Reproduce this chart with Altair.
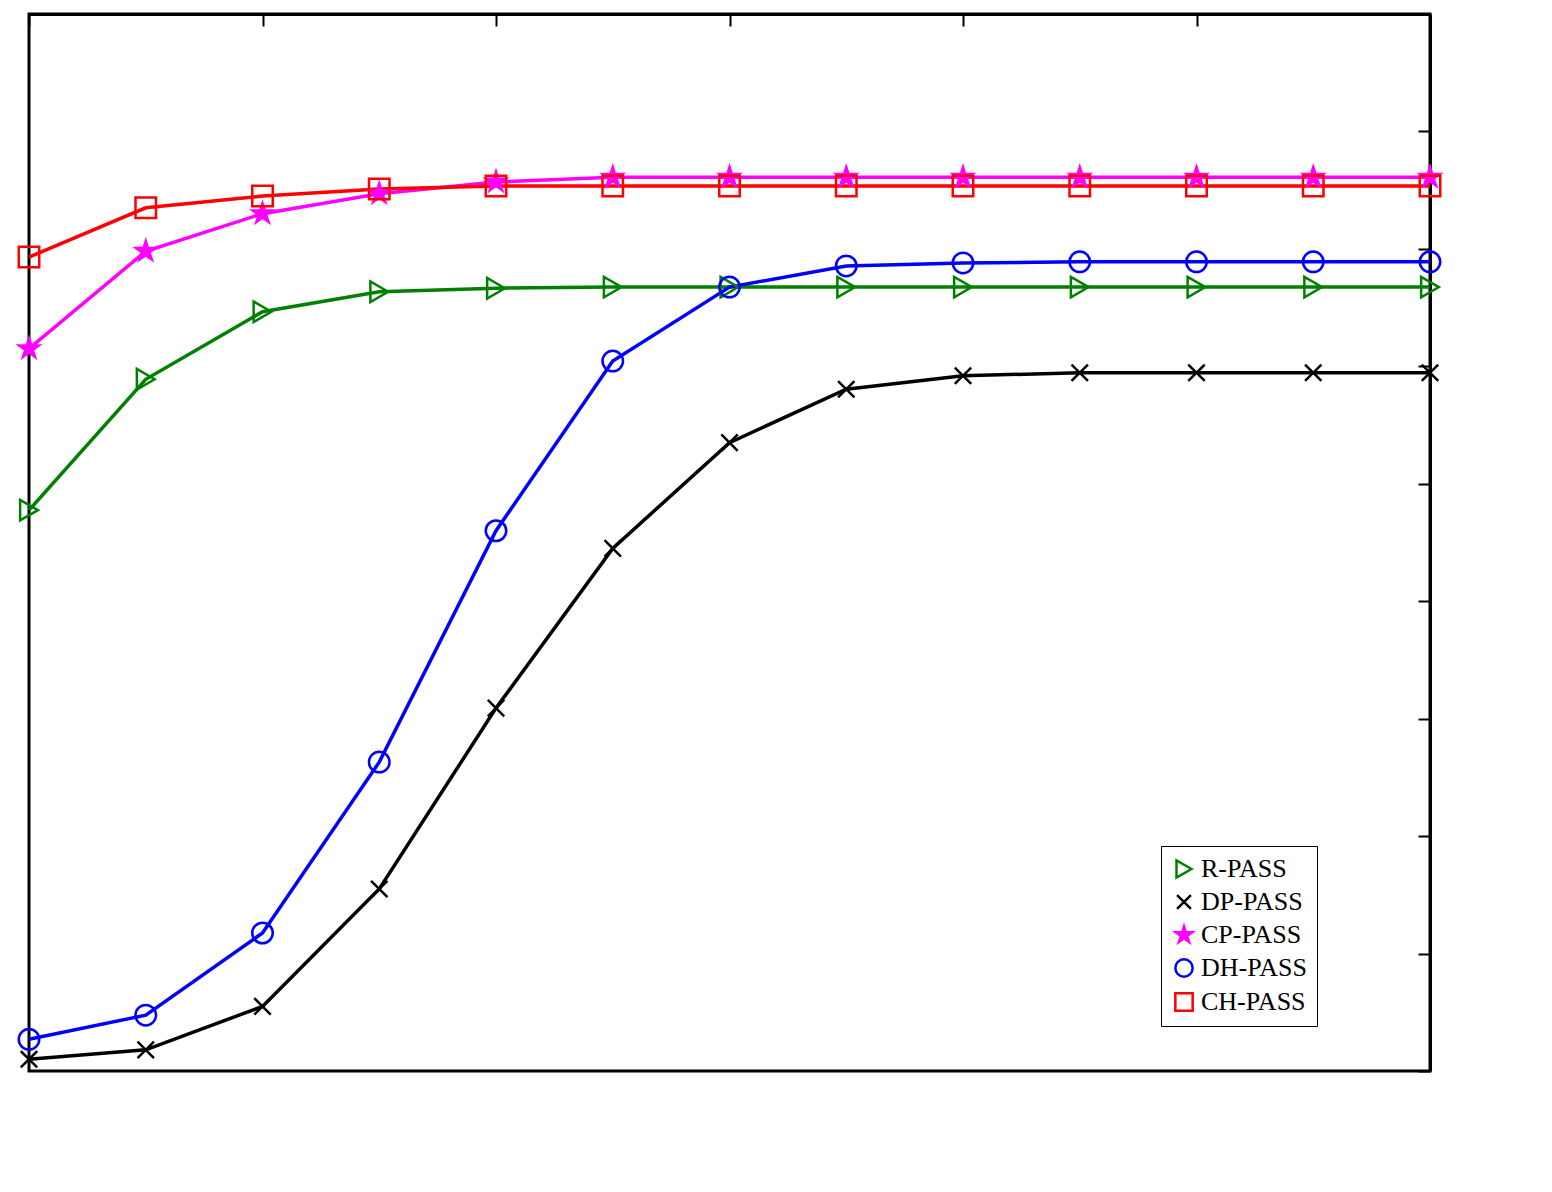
import altair as alt
import pandas as pd

iters = [0, 10, 20, 30, 40, 50, 60, 70, 80, 90, 100, 110, 120]
r_pass = [17.55, 19.78, 20.93, 21.27, 21.33, 21.35, 21.35, 21.35, 21.35, 21.35, 21.35, 21.35, 21.35]
dp_pass = [8.2, 8.36, 9.1, 11.1, 14.18, 16.9, 18.7, 19.61, 19.84, 19.89, 19.89, 19.89, 19.89]
cp_pass = [20.3, 21.96, 22.6, 22.94, 23.14, 23.22, 23.22, 23.22, 23.22, 23.22, 23.22, 23.22, 23.22]
dh_pass = [8.54, 8.95, 10.35, 13.26, 17.2, 20.09, 21.35, 21.71, 21.76, 21.78, 21.78, 21.78, 21.78]
ch_pass = [21.86, 22.7, 22.9, 23.02, 23.07, 23.07, 23.07, 23.07, 23.07, 23.07, 23.07, 23.07, 23.07]

names = ["R-PASS", "DP-PASS", "CP-PASS", "DH-PASS", "CH-PASS"]
colors = ["green", "black", "magenta", "blue", "red"]
star = "M0,-1L0.22,-0.31L0.95,-0.31L0.36,0.12L0.59,0.81L0,0.38L-0.59,0.81L-0.36,0.12L-0.95,-0.31L-0.22,-0.31Z"
shapes = ["triangle-right", "M-0.8,-0.8L0.8,0.8M-0.8,0.8L0.8,-0.8", star, "circle", "square"]
fills = ["transparent", "transparent", "magenta", "transparent", "transparent"]

rows = []
for n, vals in zip(names, [r_pass, dp_pass, cp_pass, dh_pass, ch_pass]):
    for i, v in zip(iters, vals):
        rows.append({"iter": i, "rate": v, "series": n})
df = pd.DataFrame(rows)

F = "Liberation Serif"
inward = alt.ExprRef(expr="-12")
xs = alt.Scale(domain=[0, 120], nice=False)
ys = alt.Scale(domain=[8, 26], nice=False)
xax = alt.Axis(values=list(range(0, 121, 20)), tickSize=inward, grid=False, labelPadding=16,
               title="Number of Iterations", titleFontWeight="normal")
yax = alt.Axis(values=list(range(8, 27, 2)), tickSize=inward, grid=False, labelPadding=16,
               title="Sum-Rate (bps/Hz)", titleFontWeight="normal")
col = alt.Color("series:N", scale=alt.Scale(domain=names, range=colors),
                legend=alt.Legend(title=None, orient="none", legendX=1132, legendY=832,
                                  strokeColor="black", fillColor="white", padding=10,
                                  labelFont=F, labelFontSize=26, symbolSize=300,
                                  symbolStrokeWidth=2.5, rowPadding=6))

base = alt.Chart(df).encode(
    x=alt.X("iter:Q", scale=xs, axis=xax),
    y=alt.Y("rate:Q", scale=ys, axis=yax),
    color=col,
)
lines = base.mark_line(strokeWidth=3.5)
pts = base.mark_point(size=420, strokeWidth=2.5, opacity=1).encode(
    shape=alt.Shape("series:N", scale=alt.Scale(domain=names, range=shapes)),
    fill=alt.Fill("series:N", scale=alt.Scale(domain=names, range=fills)),
)
mirror = alt.Chart(df).mark_point(opacity=0).encode(
    x=alt.X("iter:Q", scale=xs, axis=alt.Axis(orient="top", values=list(range(0, 121, 20)),
            tickSize=inward, labels=False, title=None, grid=False)),
    y=alt.Y("rate:Q", scale=ys, axis=alt.Axis(orient="right", values=list(range(8, 27, 2)),
            tickSize=inward, labels=False, title=None, grid=False)),
)

chart = alt.layer(lines, pts, mirror).properties(width=1401, height=1057).configure_axis(
    labelFont=F, labelFontSize=30, titleFont=F, titleFontSize=34, labelColor="black",
    titleColor="black", domainColor="black", tickColor="black", domainWidth=3, tickWidth=2,
).configure_view(stroke="black", strokeWidth=3)

chart.save("out.html", embed_options={"renderer": "svg", "actions": False})
